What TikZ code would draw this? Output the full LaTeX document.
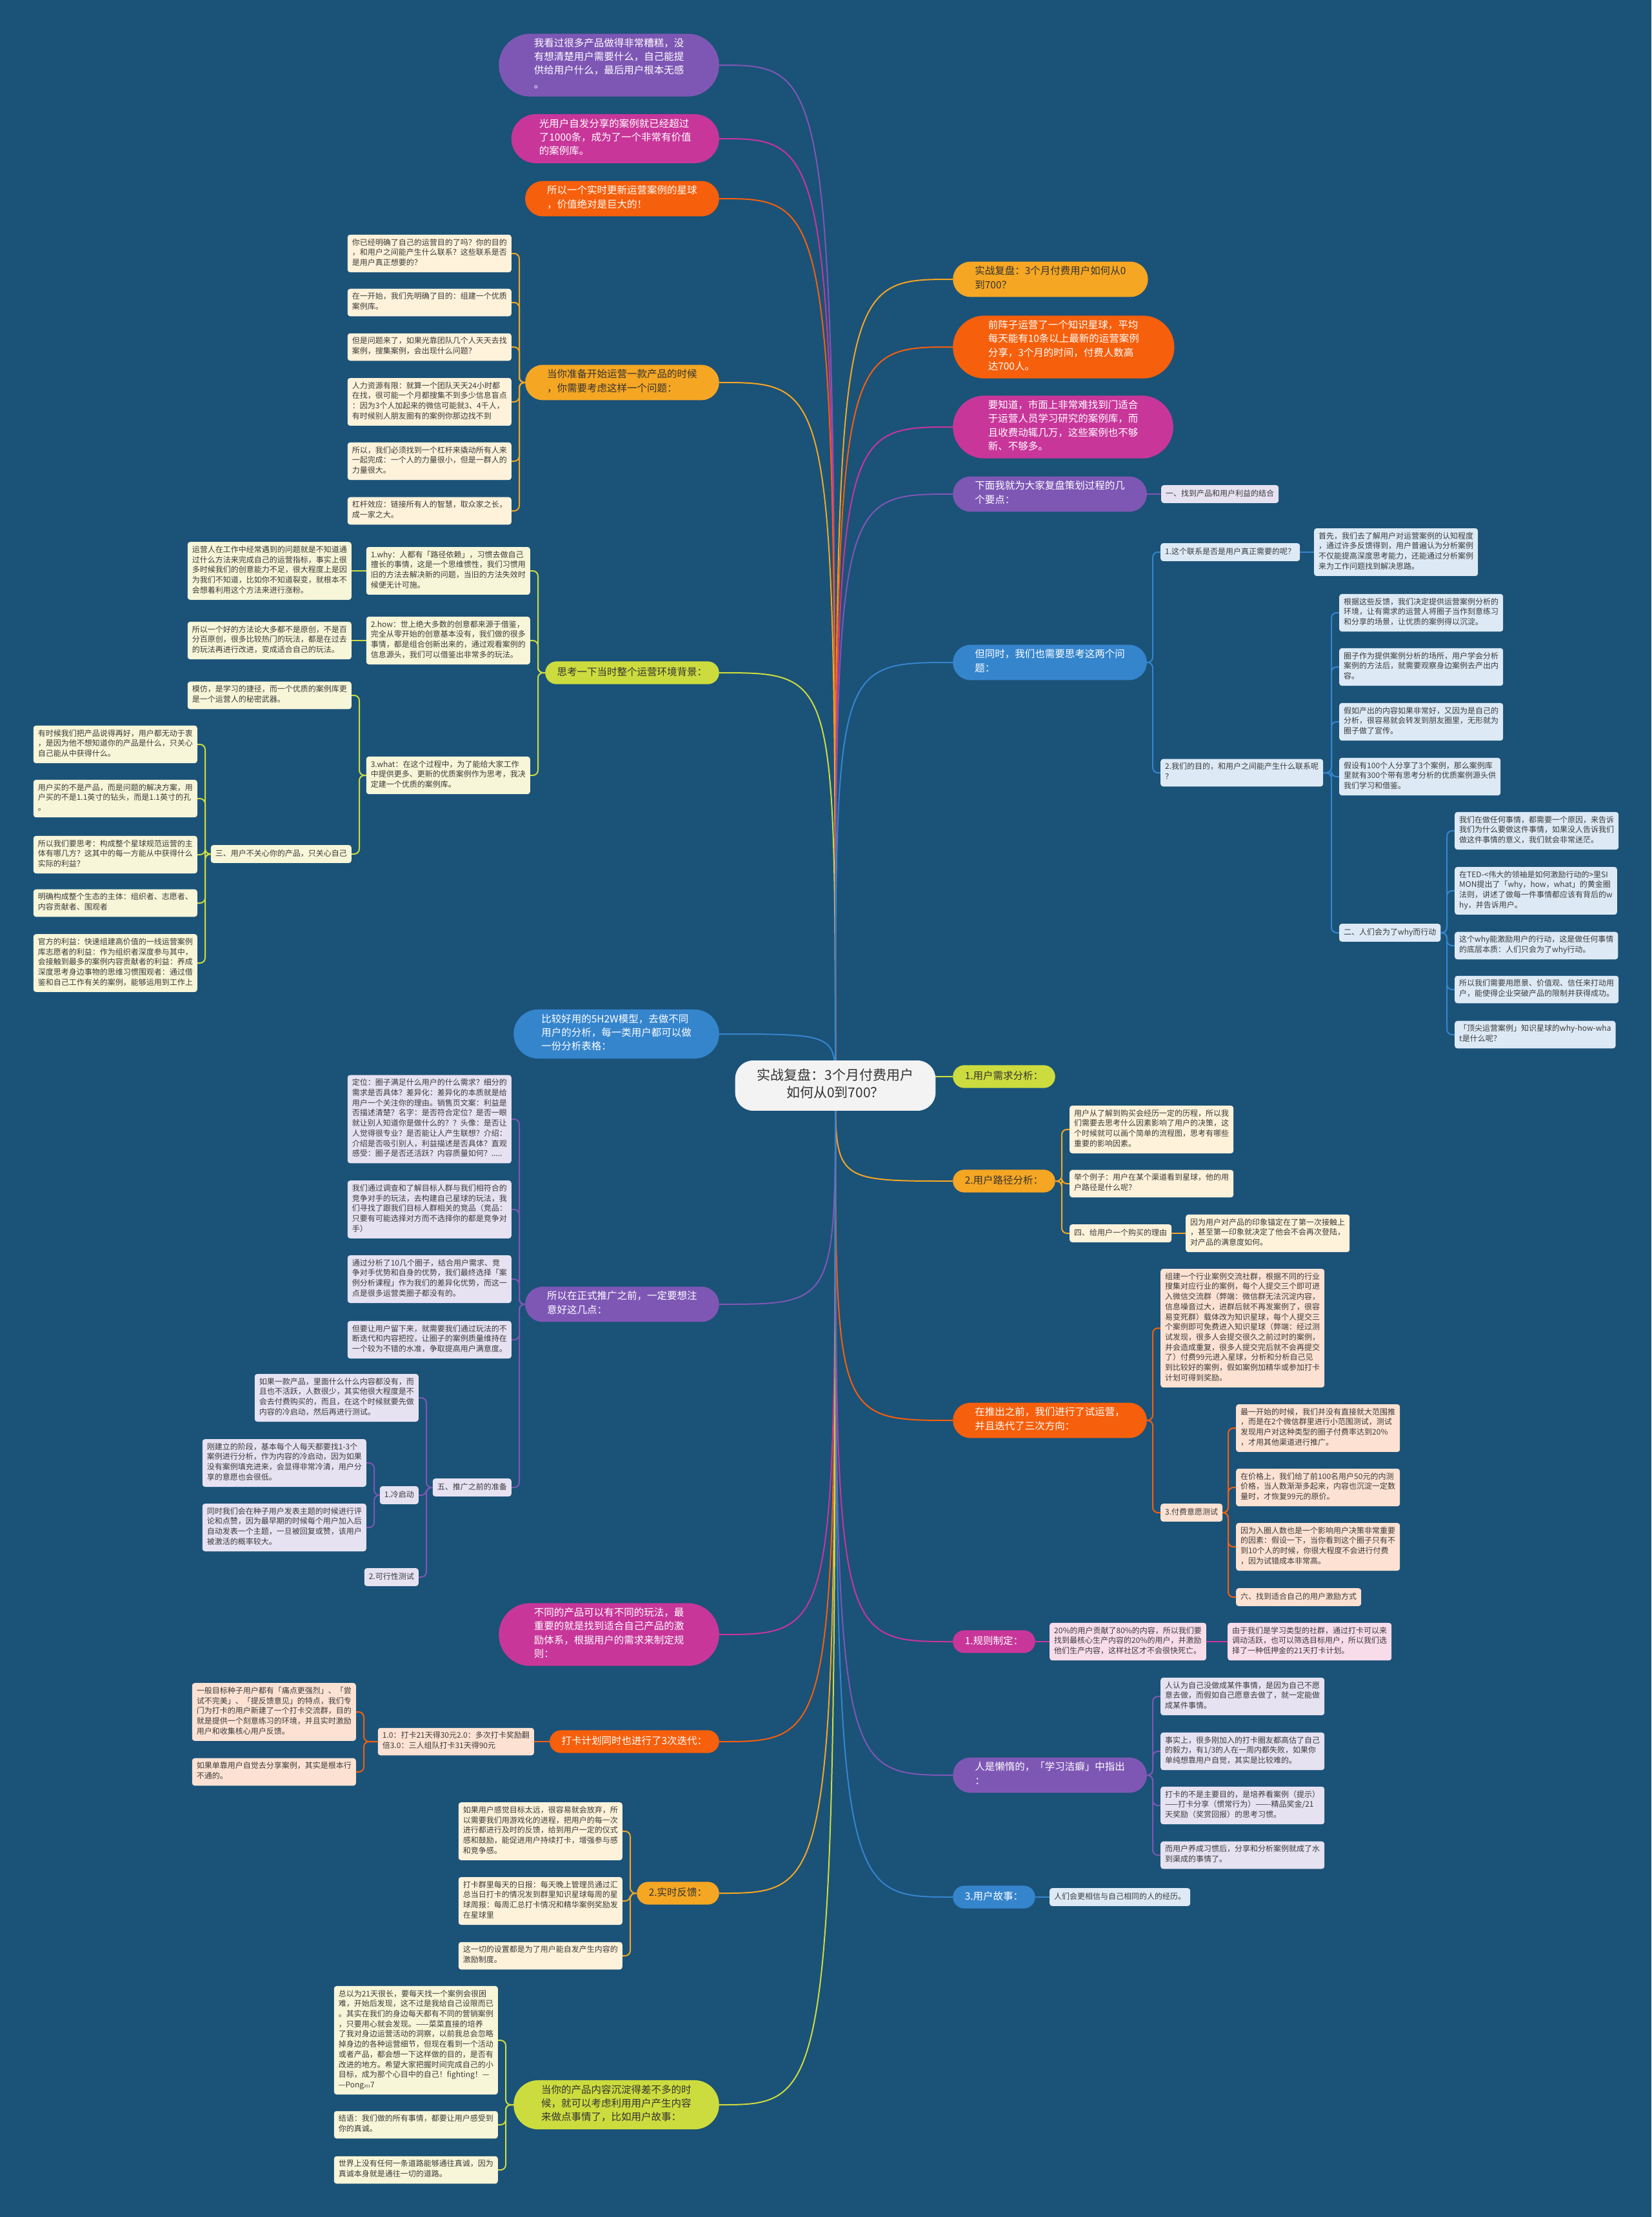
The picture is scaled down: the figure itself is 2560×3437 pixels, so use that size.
\documentclass[tikz,border=0pt]{standalone}
\usepackage{fontspec}
\setmainfont{Noto Sans CJK SC}
\usepackage{xcolor}
\usetikzlibrary{shapes.misc,backgrounds}

\definecolor{bgblue}{HTML}{1B5278}
\definecolor{cPurple}{HTML}{7E57B5}
\definecolor{cMagenta}{HTML}{C8369A}
\definecolor{cOrange}{HTML}{F65F0C}
\definecolor{cAmber}{HTML}{F5A623}
\definecolor{cLime}{HTML}{CCDC3E}
\definecolor{cBlue}{HTML}{3585CD}
\definecolor{fPurple}{HTML}{E6E2F2}
\definecolor{fMagenta}{HTML}{F8DCEA}
\definecolor{fOrange}{HTML}{FDE2D3}
\definecolor{fAmber}{HTML}{FEF2DA}
\definecolor{fLime}{HTML}{F7F6D8}
\definecolor{fBlue}{HTML}{DDEAF6}
\definecolor{rootfill}{HTML}{F3F3F3}
\definecolor{txtdark}{HTML}{333333}
\definecolor{leaftxt}{HTML}{3B3B3B}

\newcommand{\rtfont}{\fontsize{21pt}{27pt}\selectfont}
\newcommand{\mnfont}{\fontsize{15.5pt}{21.3pt}\selectfont}
\newcommand{\lffont}{\fontsize{12pt}{15.7pt}\selectfont}

\begin{document}
\begin{tikzpicture}[x=1pt, y=-1pt,
  rootbox/.style={rectangle, rounded corners=28pt, fill=rootfill, text=txtdark,
                  font=\rtfont, align=center, inner xsep=34pt, inner ysep=12.5pt},
  mainbox/.style={rounded rectangle, fill=#1, text=white, font=\mnfont,
                  align=left, inner xsep=15pt, inner ysep=7pt},
  darkbox/.style={mainbox=#1, text=txtdark},
  two/.style={inner xsep=25pt},
  three/.style={inner xsep=27pt},
  four/.style={inner xsep=31pt},
  leafbox/.style={rectangle, rounded corners=4pt, fill=#1, text=leaftxt,
                  font=\lffont, align=left, inner xsep=7pt, inner ysep=6pt},
  every node/.append style={execute at begin node=\strut, execute at end node=\strut},
  lk/.style={draw=#1, line width=2pt, rounded corners=8pt},
  rootlk/.style={draw=#1, line width=2pt},
]
  \useasboundingbox (0,0) rectangle (2560,3437);

  % Root
  \node[rootbox] (root) at (1295,1683) {实战复盘：3个月付费用户\\如何从0到700？};

  % Main topics, left side
  \node[mainbox=cPurple, four, anchor=east] (L1) at (1115,101) {我看过很多产品做得非常糟糕，没\\有想清楚用户需要什么，自己能提\\供给用户什么，最后用户根本无感\\。};
  \node[mainbox=cMagenta, three, anchor=east] (L2) at (1115,215) {光用户自发分享的案例就已经超过\\了1000条，成为了一个非常有价值\\的案例库。};
  \node[mainbox=cOrange, two, anchor=east] (L3) at (1115,308) {所以一个实时更新运营案例的星球\\，价值绝对是巨大的！};
  \node[darkbox=cAmber, two, anchor=east] (L4) at (1115,593) {当你准备开始运营一款产品的时候\\，你需要考虑这样一个问题：};
  \node[darkbox=cLime, anchor=east] (L5) at (1115,1043) {思考一下当时整个运营环境背景：};
  \node[mainbox=cBlue, three, anchor=east] (L6) at (1115,1603) {比较好用的5H2W模型，去做不同\\用户的分析，每一类用户都可以做\\一份分析表格：};
  \node[mainbox=cPurple, two, anchor=east] (L7) at (1115,2022) {所以在正式推广之前，一定要想注\\意好这几点：};
  \node[mainbox=cMagenta, four, anchor=east] (L8) at (1115,2534) {不同的产品可以有不同的玩法，最\\重要的就是找到适合自己产品的激\\励体系，根据用户的需求来制定规\\则：};
  \node[mainbox=cOrange, anchor=east] (L9) at (1115,2700) {打卡计划同时也进行了3次迭代：};
  \node[darkbox=cAmber, anchor=east] (L10) at (1115,2935) {2.实时反馈：};
  \node[darkbox=cLime, three, anchor=east] (L11) at (1115,3263) {当你的产品内容沉淀得差不多的时\\候，就可以考虑利用用户产生内容\\来做点事情了，比如用户故事：};

  % Main topics, right side
  \node[darkbox=cAmber, two, anchor=west] (R1) at (1477,433) {实战复盘：3个月付费用户如何从0\\到700？};
  \node[mainbox=cOrange, four, anchor=west] (R2) at (1477,538) {前阵子运营了一个知识星球，平均\\每天能有10条以上最新的运营案例\\分享，3个月的时间，付费人数高\\达700人。};
  \node[mainbox=cMagenta, four, anchor=west] (R3) at (1477,662) {要知道，市面上非常难找到门适合\\于运营人员学习研究的案例库，而\\且收费动辄几万，这些案例也不够\\新、不够多。};
  \node[mainbox=cPurple, two, anchor=west] (R4) at (1477,766) {下面我就为大家复盘策划过程的几\\个要点：};
  \node[mainbox=cBlue, two, anchor=west] (R5) at (1477,1027) {但同时，我们也需要思考这两个问\\题：};
  \node[darkbox=cLime, anchor=west] (R6) at (1477,1669) {1.用户需求分析：};
  \node[darkbox=cAmber, anchor=west] (R7) at (1477,1831) {2.用户路径分析：};
  \node[mainbox=cOrange, two, anchor=west] (R8) at (1477,2202) {在推出之前，我们进行了试运营，\\并且迭代了三次方向：};
  \node[mainbox=cMagenta, anchor=west] (R9) at (1477,2545) {1.规则制定：};
  \node[mainbox=cPurple, two, anchor=west] (R10) at (1477,2752) {人是懒惰的，「学习洁癖」中指出\\：};
  \node[mainbox=cBlue, anchor=west] (R11) at (1477,2941) {3.用户故事：};

  % Leaves under L4
  \node[leafbox=fAmber, anchor=east] (a1) at (793,393) {你已经明确了自己的运营目的了吗？你的目的\\，和用户之间能产生什么联系？这些联系是否\\是用户真正想要的？};
  \node[leafbox=fAmber, anchor=east] (a2) at (793,469) {在一开始，我们先明确了目的：组建一个优质\\案例库。};
  \node[leafbox=fAmber, anchor=east] (a3) at (793,538) {但是问题来了，如果光靠团队几个人天天去找\\案例，搜集案例，会出现什么问题？};
  \node[leafbox=fAmber, anchor=east] (a4) at (793,623) {人力资源有限：就算一个团队天天24小时都\\在找，很可能一个月都搜集不到多少信息盲点\\：因为3个人加起来的微信可能就3、4千人，\\有时候别人朋友圈有的案例你那边找不到};
  \node[leafbox=fAmber, anchor=east] (a5) at (793,715) {所以，我们必须找到一个杠杆来撬动所有人来\\一起完成：一个人的力量很小，但是一群人的\\力量很大。};
  \node[leafbox=fAmber, anchor=east] (a6) at (793,792) {杠杆效应：链接所有人的智慧，取众家之长，\\成一家之大。};

  % Leaves under L5
  \node[leafbox=fLime, anchor=east] (b1) at (822,885) {1.why：人都有「路径依赖」，习惯去做自己\\擅长的事情，这是一个思维惯性，我们习惯用\\旧的方法去解决新的问题，当旧的方法失效时\\候便无计可施。};
  \node[leafbox=fLime, anchor=east] (b2) at (822,993) {2.how：世上绝大多数的创意都来源于借鉴，\\完全从零开始的创意基本没有，我们做的很多\\事情，都是组合创新出来的，通过观看案例的\\信息源头，我们可以借鉴出非常多的玩法。};
  \node[leafbox=fLime, anchor=east] (b3) at (822,1202) {3.what：在这个过程中，为了能给大家工作\\中提供更多、更新的优质案例作为思考，我决\\定建一个优质的案例库。};
  \node[leafbox=fLime, anchor=east] (b1a) at (545,885) {运营人在工作中经常遇到的问题就是不知道通\\过什么方法来完成自己的运营指标，事实上很\\多时候我们的创意能力不足，很大程度上是因\\为我们不知道，比如你不知道裂变，就根本不\\会想着利用这个方法来进行涨粉。};
  \node[leafbox=fLime, anchor=east] (b2a) at (545,993) {所以一个好的方法论大多都不是原创，不是百\\分百原创，很多比较热门的玩法，都是在过去\\的玩法再进行改进，变成适合自己的玩法。};
  \node[leafbox=fLime, anchor=east] (b3a) at (545,1078) {模仿，是学习的捷径，而一个优质的案例库更\\是一个运营人的秘密武器。};
  \node[leafbox=fLime, anchor=east] (b3b) at (545,1324) {三、用户不关心你的产品，只关心自己};
  \node[leafbox=fLime, anchor=east] (c1) at (306,1154) {有时候我们把产品说得再好，用户都无动于衷\\，是因为他不想知道你的产品是什么，只关心\\自己能从中获得什么。};
  \node[leafbox=fLime, anchor=east] (c2) at (306,1238) {用户买的不是产品，而是问题的解决方案，用\\户买的不是1.1英寸的钻头，而是1.1英寸的孔\\。};
  \node[leafbox=fLime, anchor=east] (c3) at (306,1325) {所以我们要思考：构成整个星球规范运营的主\\体有哪几方？这其中的每一方能从中获得什么\\实际的利益？};
  \node[leafbox=fLime, anchor=east] (c4) at (306,1400) {明确构成整个生态的主体：组织者、志愿者、\\内容贡献者、围观者};
  \node[leafbox=fLime, anchor=east] (c5) at (306,1493) {官方的利益：快速组建高价值的一线运营案例\\库志愿者的利益：作为组织者深度参与其中，\\会接触到最多的案例内容贡献者的利益：养成\\深度思考身边事物的思维习惯围观者：通过借\\鉴和自己工作有关的案例，能够运用到工作上};

  % Leaves under L7
  \node[leafbox=fPurple, anchor=east] (d1) at (793,1735) {定位：圈子满足什么用户的什么需求？细分的\\需求是否具体？差异化：差异化的本质就是给\\用户一个关注你的理由。销售页文案：利益是\\否描述清楚？名字：是否符合定位？是否一眼\\就让别人知道你是做什么的？？头像：是否让\\人觉得很专业？是否能让人产生联想？介绍：\\介绍是否吸引别人，利益描述是否具体？直观\\感受：圈子是否还活跃？内容质量如何？.....};
  \node[leafbox=fPurple, anchor=east] (d2) at (793,1875) {我们通过调查和了解目标人群与我们相符合的\\竞争对手的玩法，去构建自己星球的玩法，我\\们寻找了跟我们目标人群相关的竞品（竞品：\\只要有可能选择对方而不选择你的都是竞争对\\手）};
  \node[leafbox=fPurple, anchor=east] (d3) at (793,1983) {通过分析了10几个圈子，结合用户需求、竞\\争对手优势和自身的优势，我们最终选择「案\\例分析课程」作为我们的差异化优势，而这一\\点是很多运营类圈子都没有的。};
  \node[leafbox=fPurple, anchor=east] (d4) at (793,2077) {但要让用户留下来，就需要我们通过玩法的不\\断迭代和内容把控，让圈子的案例质量维持在\\一个较为不错的水准，争取提高用户满意度。};
  \node[leafbox=fPurple, anchor=east] (d5) at (793,2306) {五、推广之前的准备};
  \node[leafbox=fPurple, anchor=east] (e1) at (649,2167) {如果一款产品，里面什么什么内容都没有，而\\且也不活跃，人数很少，其实他很大程度是不\\会去付费购买的，而且，在这个时候就要先做\\内容的冷启动，然后再进行测试。};
  \node[leafbox=fPurple, anchor=east] (e2) at (649,2318) {1.冷启动};
  \node[leafbox=fPurple, anchor=east] (e3) at (649,2445) {2.可行性测试};
  \node[leafbox=fPurple, anchor=east] (f1) at (568,2268) {刚建立的阶段，基本每个人每天都要找1-3个\\案例进行分析，作为内容的冷启动，因为如果\\没有案例填充进来，会显得非常冷清，用户分\\享的意愿也会很低。};
  \node[leafbox=fPurple, anchor=east] (f2) at (568,2368) {同时我们会在种子用户发表主题的时候进行评\\论和点赞，因为最早期的时候每个用户加入后\\自动发表一个主题，一旦被回复或赞，该用户\\被激活的概率较大。};

  % Leaves under L9
  \node[leafbox=fOrange, anchor=east] (g1) at (828,2700) {1.0：打卡21天得30元2.0：多次打卡奖励翻\\倍3.0：三人组队打卡31天得90元};
  \node[leafbox=fOrange, anchor=east] (g1a) at (552,2654) {一般目标种子用户都有「痛点更强烈」、「尝\\试不完美」、「提反馈意见」的特点，我们专\\门为打卡的用户新建了一个打卡交流群，目的\\就是提供一个刻意练习的环境，并且实时激励\\用户和收集核心用户反馈。};
  \node[leafbox=fOrange, anchor=east] (g1b) at (552,2747) {如果单靠用户自觉去分享案例，其实是根本行\\不通的。};

  % Leaves under L10
  \node[leafbox=fAmber, anchor=east] (o1) at (965,2839) {如果用户感觉目标太远，很容易就会放弃，所\\以需要我们用游戏化的进程，把用户的每一次\\进行都进行及时的反馈，给到用户一定的仪式\\感和鼓励，能促进用户持续打卡，增强参与感\\和竞争感。};
  \node[leafbox=fAmber, anchor=east] (o2) at (965,2947) {打卡群里每天的日报：每天晚上管理员通过汇\\总当日打卡的情况发到群里知识星球每周的星\\球周报：每周汇总打卡情况和精华案例奖励发\\在星球里};
  \node[leafbox=fAmber, anchor=east] (o3) at (965,3032) {这一切的设置都是为了用户能自发产生内容的\\激励制度。};

  % Leaves under L11
  \node[leafbox=fLime, anchor=east] (p1) at (772,3163) {总以为21天很长，要每天找一个案例会很困\\难，开始后发现，这不过是我给自己设限而已\\。其实在我们的身边每天都有不同的营销案例\\，只要用心就会发现。——菜菜直接的培养\\了我对身边运营活动的洞察，以前我总会忽略\\掉身边的各种运营细节，但现在看到一个活动\\或者产品，都会想一下这样做的目的，是否有\\改进的地方。希望大家把握时间完成自己的小\\目标，成为那个心目中的自己！fighting！—\\—Pong{\fontsize{6pt}{6pt}\selectfont 201}7};
  \node[leafbox=fLime, anchor=east] (p2) at (772,3294) {结语：我们做的所有事情，都要让用户感受到\\你的真诚。};
  \node[leafbox=fLime, anchor=east] (p3) at (772,3364) {世界上没有任何一条道路能够通往真诚，因为\\真诚本身就是通往一切的道路。};

  % Leaves under R4 and R5
  \node[leafbox=fPurple, anchor=west] (q1) at (1800,766) {一、找到产品和用户利益的结合};
  \node[leafbox=fBlue, anchor=west] (h1) at (1799,856) {1.这个联系是否是用户真正需要的呢？};
  \node[leafbox=fBlue, anchor=west] (h1a) at (2037,856) {首先，我们去了解用户对运营案例的认知程度\\，通过许多反馈得到，用户普遍认为分析案例\\不仅能提高深度思考能力，还能通过分析案例\\来为工作问题找到解决思路。};
  \node[leafbox=fBlue, anchor=west] (h2) at (1799,1198) {2.我们的目的，和用户之间能产生什么联系呢\\？};
  \node[leafbox=fBlue, anchor=west] (h2a) at (2076,950) {根据这些反馈，我们决定提供运营案例分析的\\环境，让有需求的运营人将圈子当作刻意练习\\和分享的场景，让优质的案例得以沉淀。};
  \node[leafbox=fBlue, anchor=west] (h2b) at (2076,1034) {圈子作为提供案例分析的场所，用户学会分析\\案例的方法后，就需要观察身边案例去产出内\\容。};
  \node[leafbox=fBlue, anchor=west] (h2c) at (2076,1119) {假如产出的内容如果非常好，又因为是自己的\\分析，很容易就会转发到朋友圈里，无形就为\\圈子做了宣传。};
  \node[leafbox=fBlue, anchor=west] (h2d) at (2076,1204) {假设有100个人分享了3个案例，那么案例库\\里就有300个带有思考分析的优质案例源头供\\我们学习和借鉴。};
  \node[leafbox=fBlue, anchor=west] (h2e) at (2076,1446) {二、人们会为了why而行动};
  \node[leafbox=fBlue, anchor=west] (i1) at (2255,1288) {我们在做任何事情，都需要一个原因，来告诉\\我们为什么要做这件事情，如果没人告诉我们\\做这件事情的意义，我们就会非常迷茫。};
  \node[leafbox=fBlue, anchor=west] (i2) at (2255,1381) {在TED-<伟大的领袖是如何激励行动的>里SI\\MON提出了「why，how，what」的黄金圈\\法则，讲述了做每一件事情都应该有背后的w\\hy，并告诉用户。};
  \node[leafbox=fBlue, anchor=west] (i3) at (2255,1466) {这个why能激励用户的行动，这是做任何事情\\的底层本质：人们只会为了why行动。};
  \node[leafbox=fBlue, anchor=west] (i4) at (2255,1534) {所以我们需要用愿景、价值观、信任来打动用\\户，能使得企业突破产品的限制并获得成功。};
  \node[leafbox=fBlue, anchor=west] (i5) at (2255,1604) {「顶尖运营案例」知识星球的why-how-wha\\t是什么呢？};

  % Leaves under R7
  \node[leafbox=fAmber, anchor=west] (j1) at (1658,1751) {用户从了解到购买会经历一定的历程，所以我\\们需要去思考什么因素影响了用户的决策，这\\个时候就可以画个简单的流程图，思考有哪些\\重要的影响因素。};
  \node[leafbox=fAmber, anchor=west] (j2) at (1658,1835) {举个例子：用户在某个渠道看到星球，他的用\\户路径是什么呢？};
  \node[leafbox=fAmber, anchor=west] (j3) at (1658,1912) {四、给用户一个购买的理由};
  \node[leafbox=fAmber, anchor=west] (j3a) at (1838,1912) {因为用户对产品的印象锚定在了第一次接触上\\，甚至第一印象就决定了他会不会再次登陆，\\对产品的满意度如何。};

  % Leaves under R8
  \node[leafbox=fOrange, anchor=west] (k1) at (1799,2059) {组建一个行业案例交流社群，根据不同的行业\\搜集对应行业的案例，每个人提交三个即可进\\入微信交流群（弊端：微信群无法沉淀内容，\\信息噪音过大，进群后就不再发案例了，很容\\易变死群）载体改为知识星球，每个人提交三\\个案例即可免费进入知识星球（弊端：经过测\\试发现，很多人会提交很久之前过时的案例，\\并会造成重复，很多人提交完后就不会再提交\\了）付费99元进入星球，分析和分析自己见\\到比较好的案例，假如案例加精华或参加打卡\\计划可得到奖励。};
  \node[leafbox=fOrange, anchor=west] (k2) at (1799,2345) {3.付费意愿测试};
  \node[leafbox=fOrange, anchor=west] (k2a) at (1916,2214) {最一开始的时候，我们并没有直接就大范围推\\，而是在2个微信群里进行小范围测试，测试\\发现用户对这种类型的圈子付费率达到20\%\\，才用其他渠道进行推广。};
  \node[leafbox=fOrange, anchor=west] (k2b) at (1916,2306) {在价格上，我们给了前100名用户50元的内测\\价格，当人数渐渐多起来，内容也沉淀一定数\\量时，才恢复99元的原价。};
  \node[leafbox=fOrange, anchor=west] (k2c) at (1916,2398) {因为入圈人数也是一个影响用户决策非常重要\\的因素：假设一下，当你看到这个圈子只有不\\到10个人的时候，你很大程度不会进行付费\\，因为试错成本非常高。};
  \node[leafbox=fOrange, anchor=west] (k2d) at (1916,2476) {六、找到适合自己的用户激励方式};

  % Leaves under R9, R10, R11
  \node[leafbox=fMagenta, anchor=west] (l1) at (1627,2545) {20\%的用户贡献了80\%的内容，所以我们要\\找到最核心生产内容的20\%的用户，并激励\\他们生产内容，这样社区才不会很快死亡。};
  \node[leafbox=fMagenta, anchor=west] (l1a) at (1903,2545) {由于我们是学习类型的社群，通过打卡可以来\\调动活跃，也可以筛选目标用户，所以我们选\\择了一种低押金的21天打卡计划。};
  \node[leafbox=fPurple, anchor=west] (m1) at (1799,2630) {人认为自己没做成某件事情，是因为自己不愿\\意去做，而假如自己愿意去做了，就一定能做\\成某件事情。};
  \node[leafbox=fPurple, anchor=west] (m2) at (1799,2715) {事实上，很多刚加入的打卡圈友都高估了自己\\的毅力，有1/3的人在一周内都失败，如果你\\单纯想靠用户自觉，其实是比较难的。};
  \node[leafbox=fPurple, anchor=west] (m3) at (1799,2799) {打卡的不是主要目的，是培养看案例（提示）\\——打卡分享（惯常行为）——-精品奖金/21\\天奖励（奖赏回报）的思考习惯。};
  \node[leafbox=fPurple, anchor=west] (m4) at (1799,2876) {而用户养成习惯后，分享和分析案例就成了水\\到渠成的事情了。};
  \node[leafbox=fBlue, anchor=west] (n1) at (1627,2941) {人们会更相信与自己相同的人的经历。};

  \begin{scope}[on background layer]
    % Background
    \fill[bgblue] (0,0) rectangle (2560,3437);

    % Root links
    \foreach \n/\c in {L1/cPurple, L2/cMagenta, L3/cOrange, L4/cAmber, L5/cLime, L6/cBlue,
                       L7/cPurple, L8/cMagenta, L9/cOrange, L10/cAmber, L11/cLime}
      \draw[rootlk=\c] (root.center) .. controls (root.center |- \n.east) .. (\n.east);
    \foreach \n/\c in {R1/cAmber, R2/cOrange, R3/cMagenta, R4/cPurple, R5/cBlue, R6/cLime,
                       R7/cAmber, R8/cOrange, R9/cMagenta, R10/cPurple, R11/cBlue}
      \draw[rootlk=\c] (root.center) .. controls (root.center |- \n.west) .. (\n.west);

    % Left branches
    \foreach \c in {a1,a2,a3,a4,a5,a6}
      \draw[lk=cAmber] (L4.west) -| ([xshift=12pt]\c.east) -- (\c.east);
    \foreach \c in {b1,b2,b3}
      \draw[lk=cLime] (L5.west) -| ([xshift=12pt]\c.east) -- (\c.east);
    \draw[lk=cLime] (b1.west) -- (b1a.east);
    \draw[lk=cLime] (b2.west) -- (b2a.east);
    \foreach \c in {b3a,b3b}
      \draw[lk=cLime] (b3.west) -| ([xshift=12pt]\c.east) -- (\c.east);
    \foreach \c in {c1,c2,c3,c4,c5}
      \draw[lk=cLime] (b3b.west) -| ([xshift=12pt]\c.east) -- (\c.east);
    \foreach \c in {d1,d2,d3,d4,d5}
      \draw[lk=cPurple] (L7.west) -| ([xshift=12pt]\c.east) -- (\c.east);
    \foreach \c in {e1,e2,e3}
      \draw[lk=cPurple] (d5.west) -| ([xshift=12pt]\c.east) -- (\c.east);
    \foreach \c in {f1,f2}
      \draw[lk=cPurple] (e2.west) -| ([xshift=12pt]\c.east) -- (\c.east);
    \draw[lk=cOrange] (L9.west) -- (g1.east);
    \foreach \c in {g1a,g1b}
      \draw[lk=cOrange] (g1.west) -| ([xshift=12pt]\c.east) -- (\c.east);
    \foreach \c in {o1,o2,o3}
      \draw[lk=cAmber] (L10.west) -| ([xshift=12pt]\c.east) -- (\c.east);
    \foreach \c in {p1,p2,p3}
      \draw[lk=cLime] (L11.west) -| ([xshift=12pt]\c.east) -- (\c.east);

    % Right branches
    \draw[lk=cPurple] (R4.east) -- (q1.west);
    \foreach \c in {h1,h2}
      \draw[lk=cBlue] (R5.east) -| ([xshift=-12pt]\c.west) -- (\c.west);
    \draw[lk=cBlue] (h1.east) -- (h1a.west);
    \foreach \c in {h2a,h2b,h2c,h2d,h2e}
      \draw[lk=cBlue] (h2.east) -| ([xshift=-12pt]\c.west) -- (\c.west);
    \foreach \c in {i1,i2,i3,i4,i5}
      \draw[lk=cBlue] (h2e.east) -| ([xshift=-12pt]\c.west) -- (\c.west);
    \foreach \c in {j1,j2,j3}
      \draw[lk=cAmber] (R7.east) -| ([xshift=-12pt]\c.west) -- (\c.west);
    \draw[lk=cAmber] (j3.east) -- (j3a.west);
    \foreach \c in {k1,k2}
      \draw[lk=cOrange] (R8.east) -| ([xshift=-12pt]\c.west) -- (\c.west);
    \foreach \c in {k2a,k2b,k2c,k2d}
      \draw[lk=cOrange] (k2.east) -| ([xshift=-12pt]\c.west) -- (\c.west);
    \draw[lk=cMagenta] (R9.east) -- (l1.west);
    \draw[lk=cMagenta] (l1.east) -- (l1a.west);
    \foreach \c in {m1,m2,m3,m4}
      \draw[lk=cPurple] (R10.east) -| ([xshift=-12pt]\c.west) -- (\c.west);
    \draw[lk=cBlue] (R11.east) -- (n1.west);
  \end{scope}
\end{tikzpicture}
\end{document}
